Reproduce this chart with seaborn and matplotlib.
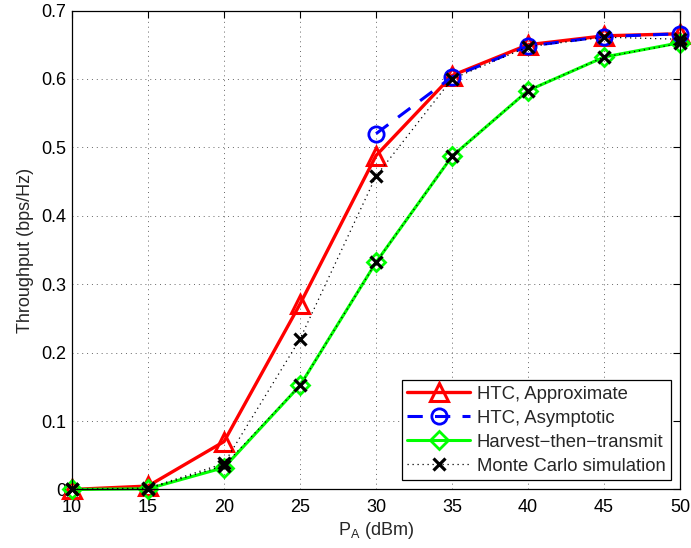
import matplotlib
matplotlib.use("Agg")
import matplotlib.pyplot as plt
import seaborn as sns
import numpy as np

# Transmit power (dBm)
power_dbm = [10, 15, 20, 25, 30, 35, 40, 45, 50]
# Throughput (bps/Hz)
htc_approx = [0.0, 0.005, 0.07, 0.271, 0.488, 0.605, 0.650, 0.663, 0.666]
asym_power = [30, 35, 40, 45, 50]
htc_asym = [0.520, 0.603, 0.648, 0.662, 0.666]
harvest = [0.0, 0.001, 0.032, 0.152, 0.332, 0.487, 0.583, 0.632, 0.653]
mc_htc = [0.0, 0.002, 0.038, 0.220, 0.458, 0.600, 0.647, 0.661, 0.658]
mc_harvest = [0.0, 0.001, 0.035, 0.152, 0.332, 0.487, 0.583, 0.632, 0.652]

x_ticks = [10, 15, 20, 25, 30, 35, 40, 45, 50]
y_ticks = [0, 0.1, 0.2, 0.3, 0.4, 0.5, 0.6, 0.7]
y_ticklabels = ["0", "0.1", "0.2", "0.3", "0.4", "0.5", "0.6", "0.7"]

sns.set_style("white")
plt.rcParams["font.family"] = ["Liberation Sans", "DejaVu Sans"]
plt.rcParams["mathtext.fontset"] = "custom"
plt.rcParams["mathtext.rm"] = "Liberation Sans"

fig = plt.figure(figsize=(6.91, 5.48), dpi=100)
ax = fig.add_axes([0.1042, 0.1068, 0.880, 0.874])

common = dict(ax=ax, clip_on=False)
sns.lineplot(x=power_dbm, y=htc_approx, color="#ff0000", linewidth=2.4,
             marker="^", markersize=13, markerfacecolor="none",
             markeredgecolor="#ff0000", markeredgewidth=2.2,
             label="HTC, Approximate", zorder=3, **common)
sns.lineplot(x=asym_power, y=htc_asym, color="#0000ff", linewidth=2.2,
             linestyle=(0, (5, 4)), marker="o", markersize=11,
             markerfacecolor="none", markeredgecolor="#0000ff",
             markeredgewidth=2.0, label="HTC, Asymptotic", zorder=4, **common)
sns.lineplot(x=power_dbm, y=harvest, color="#00ff00", linewidth=2.2,
             marker="D", markersize=9, markerfacecolor="none",
             markeredgecolor="#00ff00", markeredgewidth=2.0,
             label="Harvest\u2212then\u2212transmit", zorder=3, **common)
sns.lineplot(x=power_dbm, y=mc_htc, color="black", linewidth=0.9,
             linestyle=(0, (1, 3)), marker="x", markersize=9,
             markeredgecolor="black", markeredgewidth=2.3,
             label="Monte Carlo simulation", zorder=5, **common)
sns.lineplot(x=power_dbm, y=mc_harvest, color="black", linewidth=0.9,
             linestyle=(0, (1, 3)), marker="x", markersize=9,
             markeredgecolor="black", markeredgewidth=2.3,
             label="_mc_harvest", zorder=5, **common)

ax.set_xlim(10, 50)
ax.set_ylim(0, 0.7)
ax.set_xticks(x_ticks)
ax.set_yticks(y_ticks)
ax.set_yticklabels(y_ticklabels)
ax.tick_params(axis="both", direction="in", length=5, width=0.8,
               top=True, right=True, labelsize=13, colors="black")
ax.tick_params(axis="x", pad=7)
ax.tick_params(axis="y", pad=4)
ax.grid(True, color="#666666", linestyle=(0, (1, 4)), linewidth=0.7)
for s in ax.spines.values():
    s.set_visible(True)
    s.set_color("black")
    s.set_linewidth(0.9)
    s.set_zorder(6)

ax.set_xlabel("P$_{\\mathrm{A}}$ (dBm)", fontsize=13, labelpad=3)
ax.set_ylabel("Throughput (bps/Hz)", fontsize=13, labelpad=5)

handles, labels = ax.get_legend_handles_labels()
keep = [(h, l) for h, l in zip(handles, labels) if not l.startswith("_")]
leg = ax.legend([h for h, _ in keep], [l for _, l in keep], loc="lower right",
                fontsize=13.3, frameon=True, fancybox=False, framealpha=1,
                edgecolor="black", handlelength=3.4, handletextpad=0.35,
                borderpad=0.3, labelspacing=0.38, borderaxespad=0.5)
leg.get_frame().set_linewidth(0.9)
leg.set_zorder(10)

fig.savefig("out.png", dpi=100)
